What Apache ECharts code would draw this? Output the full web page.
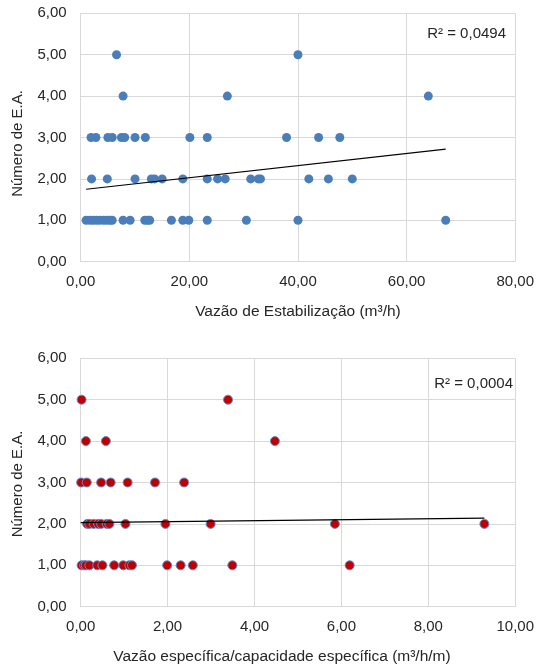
<!DOCTYPE html>
<html>
<head>
<meta charset="utf-8">
<script src="https://cdn.jsdelivr.net/npm/echarts@6/dist/echarts.min.js"></script>
<style>
  html, body { margin: 0; padding: 0; background: #fff; }
  #chart { width: 537px; height: 668px; }
</style>
</head>
<body>
<div id="chart"></div>
<script>
// Vazão de estabilização (m³/h) grouped by número de E.A.
const estabEA1 = [1.0, 1.7, 2.3, 2.9, 3.5, 4.2, 4.8, 5.4, 5.8, 7.8, 9.1, 11.8, 12.3, 12.7, 16.7, 18.8, 19.9, 23.3, 30.5, 40.0, 67.2];
const estabEA2 = [2.0, 4.9, 10.0, 13.0, 13.6, 15.0, 18.8, 23.3, 25.2, 26.6, 31.3, 32.7, 33.1, 42.0, 45.6, 50.0];
const estabEA3 = [1.9, 2.8, 5.0, 5.8, 7.5, 8.1, 10.0, 11.9, 20.1, 23.3, 37.9, 43.8, 47.7];
const estabEA4 = [7.8, 27.0, 64.0];
const estabEA5 = [6.6, 40.0];

// Vazão específica / capacidade específica (m³/h/m) grouped by número de E.A.
const especEA1 = [0.02, 0.08, 0.12, 0.20, 0.38, 0.50, 0.77, 0.98, 1.12, 1.18, 1.99, 2.30, 2.58, 3.49, 6.19];
const especEA2 = [0.15, 0.20, 0.30, 0.40, 0.47, 0.60, 0.66, 1.03, 1.95, 2.99, 5.85, 9.29];
const especEA3 = [0.01, 0.14, 0.47, 0.69, 1.08, 1.71, 2.38];
const especEA4 = [0.12, 0.58, 4.47];
const especEA5 = [0.02, 3.39];

// Linear trendline end points and R² labels
const trendEstab = [[1.0, 1.75], [67.2, 2.72]];
const trendEspec = [[0.0, 2.03], [9.29, 2.14]];
const r2Estab = 'R² = 0,0494';
const r2Espec = 'R² = 0,0004';

// Axis titles
const yTitle = 'Número de E.A.';
const xTitleEstab = 'Vazão de Estabilização (m³/h)';
const xTitleEspec = 'Vazão específica/capacidade específica (m³/h/m)';

function toPoints(groups) {
  const pts = [];
  groups.forEach((xs, i) => xs.forEach(x => pts.push([x, i + 1])));
  return pts;
}
const estabPoints = toPoints([estabEA1, estabEA2, estabEA3, estabEA4, estabEA5]);
const especPoints = toPoints([especEA1, especEA2, especEA3, especEA4, especEA5]);

const font = 'Liberation Sans, Arial, sans-serif';
const textColor = '#262626';
const gridColor = '#d9d9d9';
const fmt = v => v.toFixed(2).replace('.', ',');

function xAxis(gridIndex, max, interval, name, namePadding) {
  return {
    type: 'value', gridIndex, min: 0, max, interval,
    name, nameLocation: 'middle', nameGap: 42,
    nameTextStyle: { fontFamily: font, fontSize: 15.5, color: textColor, padding: namePadding },
    axisLine: { show: true, lineStyle: { color: gridColor, width: 1 } },
    axisTick: { show: false },
    splitLine: { show: true, lineStyle: { color: gridColor, width: 1 } },
    axisLabel: { formatter: fmt, fontFamily: font, fontSize: 15, color: textColor, margin: 13 }
  };
}
function yAxis(gridIndex, namePadding) {
  return {
    type: 'value', gridIndex, min: 0, max: 6, interval: 1,
    name: yTitle, nameLocation: 'middle', nameGap: 55,
    nameTextStyle: { fontFamily: font, fontSize: 15, color: textColor, padding: namePadding },
    axisLine: { show: true, lineStyle: { color: gridColor, width: 1 } },
    axisTick: { show: false },
    splitLine: { show: true, lineStyle: { color: gridColor, width: 1 } },
    axisLabel: { formatter: fmt, fontFamily: font, fontSize: 15, color: textColor, margin: 14 }
  };
}

const chart = echarts.init(document.getElementById('chart'), null, { renderer: 'canvas' });
chart.setOption({
  animation: false,
  backgroundColor: '#ffffff',
  grid: [
    { left: 80.7, top: 13.3, width: 436.6, height: 248.4 },
    { left: 80.7, top: 358.3, width: 436.6, height: 248.4 }
  ],
  xAxis: [
    xAxis(0, 80, 20, xTitleEstab, [0, 0, 0, 0]),
    xAxis(1, 10, 2, xTitleEspec, [0, 32, 0, 0])
  ],
  yAxis: [yAxis(0, [0, 12, 0, 0]), yAxis(1, [0, 3, 0, 0])],
  graphic: [
    { type: 'text', right: 31, top: 26,
      style: { text: r2Estab, font: '15px ' + font, fill: textColor } },
    { type: 'text', right: 24, top: 376,
      style: { text: r2Espec, font: '15px ' + font, fill: textColor } }
  ],
  series: [
    {
      type: 'scatter', xAxisIndex: 0, yAxisIndex: 0, data: estabPoints,
      symbol: 'circle', symbolSize: 9,
      itemStyle: { color: '#4a7ebb', opacity: 1 }
    },
    {
      type: 'line', xAxisIndex: 0, yAxisIndex: 0, data: trendEstab,
      symbol: 'none', z: 5,
      lineStyle: { color: '#000000', width: 1.2 }
    },
    {
      type: 'scatter', xAxisIndex: 1, yAxisIndex: 1, data: especPoints,
      symbol: 'circle', symbolSize: 9,
      itemStyle: { color: '#c00000', borderColor: '#5b8fd0', borderWidth: 1, opacity: 1 }
    },
    {
      type: 'line', xAxisIndex: 1, yAxisIndex: 1, data: trendEspec,
      symbol: 'none', z: 5,
      lineStyle: { color: '#000000', width: 1.2 }
    }
  ]
});
</script>
</body>
</html>
